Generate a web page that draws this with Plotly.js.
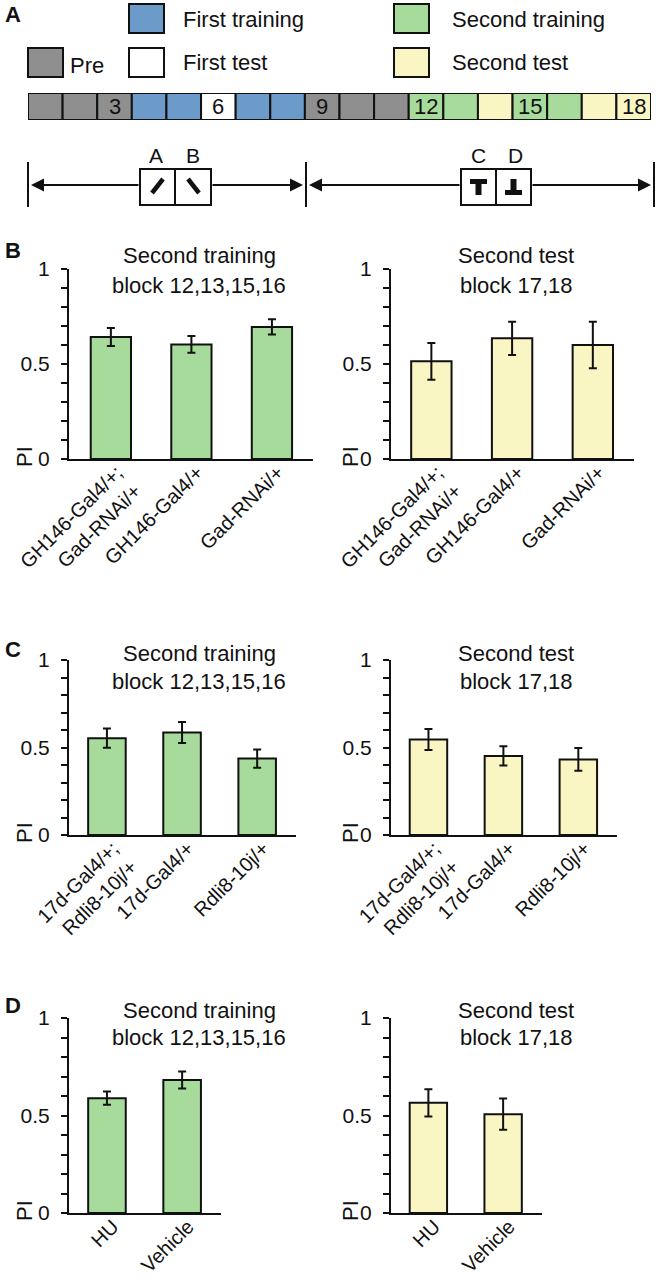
<!DOCTYPE html>
<html><head><meta charset="utf-8">
<script src="https://cdn.plot.ly/plotly-3.0.1.min.js"></script>
<style>html,body{margin:0;padding:0;background:#fff}#chart{width:656px;height:1280px}</style>
</head><body><div id="chart"></div>
<script>
// ---------- DATA ----------
const blockNumbers = [1,2,3,4,5,6,7,8,9,10,11,12,13,14,15,16,17,18];
const blockPhases = ['Pre','Pre','Pre','First training','First training','First test','First training','First training','Pre','Pre','Pre','Second training','Second training','Second test','Second training','Second training','Second test','Second test'];
const blockLabels = ['','','3','','','6','','','9','','','12','','','15','','','18'];
const phaseNames = ['First training','Second training','Pre','First test','Second test'];
const phaseColors = {'Pre':'#8f8f8f','First training':'#6c9bc9','First test':'#ffffff','Second training':'#a7db9b','Second test':'#faf6c4'};

const genotypesB = ['GH146-Gal4/+;<br>Gad-RNAi/+','GH146-Gal4/+','Gad-RNAi/+'];
const trainB = [0.642, 0.603, 0.695];
const trainBErr = [0.047, 0.044, 0.040];
const testB = [0.514, 0.635, 0.600];
const testBErr = [0.097, 0.088, 0.122];

const genotypesC = ['17d-Gal4/+;<br>Rdli8-10j/+','17d-Gal4/+','Rdli8-10j/+'];
const trainC = [0.553, 0.586, 0.437];
const trainCErr = [0.055, 0.060, 0.052];
const testC = [0.546, 0.452, 0.432];
const testCErr = [0.060, 0.055, 0.065];

const treatD = ['HU','Vehicle'];
const trainD = [0.589, 0.682];
const trainDErr = [0.034, 0.044];
const testD = [0.565, 0.507];
const testDErr = [0.070, 0.080];

const yTickVals = [0,0.1,0.2,0.3,0.4,0.5,0.6,0.7,0.8,0.9,1];
const yTickText = ['0','','','','','0.5','','','','','1'];
const titleTrain = ['Second training','block 12,13,15,16'];
const titleTest = ['Second test','block 17,18'];

// ---------- LAYOUT HELPERS ----------
const W = 656, H = 1280;
const FONT = 'Liberation Sans, Arial, Helvetica, sans-serif';
const px = x => x / W;
const py = y => 1 - y / H;
const GREEN = phaseColors['Second training'], YELLOW = phaseColors['Second test'];

const panels = [
  {cats: genotypesB, vals: trainB, errs: trainBErr, color: GREEN, x0: 69, x1: 313, top: 269, bot: 459, range: [-0.52, 2.51], title: titleTrain, tx: 199, t1: 256, t2: 285},
  {cats: genotypesB, vals: testB, errs: testBErr, color: YELLOW, x0: 391, x1: 634, top: 269, bot: 459, range: [-0.50, 2.51], title: titleTest, tx: 516, t1: 256, t2: 285},
  {cats: genotypesC, vals: trainC, errs: trainCErr, color: GREEN, x0: 69, x1: 296, top: 660, bot: 835, range: [-0.505, 2.517], title: titleTrain, tx: 199, t1: 653, t2: 681},
  {cats: genotypesC, vals: testC, errs: testCErr, color: YELLOW, x0: 391, x1: 617, top: 660, bot: 835, range: [-0.50, 2.516], title: titleTest, tx: 516, t1: 653, t2: 681},
  {cats: treatD, vals: trainD, errs: trainDErr, color: GREEN, x0: 69, x1: 221, top: 1018, bot: 1213, range: [-0.505, 1.517], title: titleTrain, tx: 199, t1: 1010, t2: 1037},
  {cats: treatD, vals: testD, errs: testDErr, color: YELLOW, x0: 391, x1: 542, top: 1018, bot: 1213, range: [-0.50, 1.52], title: titleTest, tx: 516, t1: 1010, t2: 1037}
];

const traces = [];
const layout = {
  width: W, height: H, margin: {l:0, r:0, t:0, b:0},
  paper_bgcolor: '#fff', plot_bgcolor: 'rgba(0,0,0,0)',
  showlegend: false, font: {family: FONT, size: 22, color: '#111'},
  annotations: [], shapes: []
};

panels.forEach((p, i) => {
  const n = i + 1;
  const xa = n === 1 ? 'x' : 'x' + n, ya = n === 1 ? 'y' : 'y' + n;
  traces.push({
    type: 'bar', x: p.cats, y: p.vals, xaxis: xa, yaxis: ya, width: 0.5,
    marker: {color: p.color, line: {color: '#111', width: 2}},
    error_y: {type: 'data', array: p.errs, visible: true, color: '#111', thickness: 2, width: 4},
    hoverinfo: 'skip'
  });
  layout['xaxis' + (n === 1 ? '' : n)] = {
    domain: [px(p.x0), px(p.x1)], range: p.range, type: 'category', anchor: ya,
    showline: true, linewidth: 2, linecolor: '#111', ticks: '', showgrid: false, zeroline: false,
    tickangle: -45, ticklabelshift: 6, ticklabelstandoff: -8,
    tickfont: {size: 20, family: FONT, color: '#111'}, fixedrange: true
  };
  layout['yaxis' + (n === 1 ? '' : n)] = {
    domain: [py(p.bot), py(p.top)], range: [0, 1], anchor: xa,
    showline: true, linewidth: 2, linecolor: '#111', ticks: 'outside', ticklen: 6, tickwidth: 2, tickcolor: '#111',
    tickmode: 'array', tickvals: yTickVals, ticktext: yTickText, ticklabelstandoff: 7,
    showgrid: false, zeroline: false, tickfont: {size: 21, family: FONT, color: '#111'}, fixedrange: true
  };
  layout.annotations.push({xref:'paper', yref:'paper', x: px(p.tx), y: py(p.t1), text: p.title[0], showarrow:false, xanchor:'center', yanchor:'middle', font:{size:22}});
  layout.annotations.push({xref:'paper', yref:'paper', x: px(p.tx), y: py(p.t2), text: p.title[1], showarrow:false, xanchor:'center', yanchor:'middle', font:{size:22}});
  const pix = (i % 2 === 0) ? 24 : p.x0 - 41;
  layout.annotations.push({xref:'paper', yref:'paper', x: px(pix), y: py(p.bot - 2), text: 'PI', textangle: -90, showarrow:false, xanchor:'center', yanchor:'middle', font:{size:22}});
});

// Panel letters
[['A', 14], ['B', 250], ['C', 649], ['D', 1005]].forEach(([t, y]) => {
  layout.annotations.push({xref:'paper', yref:'paper', x: px(3), y: py(y), text: '<b>' + t + '</b>', showarrow:false, xanchor:'left', yanchor:'middle', font:{size:22, color:'#111'}});
});

// ---------- PANEL A: block schedule ----------
traces.push({
  type: 'bar', x: blockNumbers, y: blockNumbers.map(() => 1), xaxis: 'x7', yaxis: 'y7', width: 1,
  marker: {color: blockPhases.map(ph => phaseColors[ph]), line: {color: '#111', width: 2}},
  hoverinfo: 'skip'
});
layout.xaxis7 = {domain: [px(28), px(651)], range: [0.5, 18.5], anchor: 'y7', visible: false, fixedrange: true};
layout.yaxis7 = {domain: [py(120), py(93)], range: [0, 1], anchor: 'x7', visible: false, fixedrange: true};
blockNumbers.forEach((b, k) => {
  if (blockLabels[k]) layout.annotations.push({xref:'x7', yref:'y7', x: b, y: 0.5, text: blockLabels[k], showarrow:false, xanchor:'center', yanchor:'middle', font:{size:22}});
});

// Legend for panel A
const legendPos = {
  'First training': {x: 129, y: 4, tx: 181, ty: 19},
  'Second training': {x: 394, y: 4, tx: 450, ty: 19},
  'Pre': {x: 28, y: 48, tx: 68, ty: 66},
  'First test': {x: 129, y: 48, tx: 181, ty: 62},
  'Second test': {x: 394, y: 48, tx: 450, ty: 62}
};
phaseNames.forEach(name => {
  const p = legendPos[name];
  layout.shapes.push({type:'rect', xref:'paper', yref:'paper', x0: px(p.x), x1: px(p.x + 35), y0: py(p.y + 29), y1: py(p.y), fillcolor: phaseColors[name], line:{color:'#111', width:2}});
  layout.annotations.push({xref:'paper', yref:'paper', x: px(p.tx), y: py(p.ty), text: name, showarrow:false, xanchor:'left', yanchor:'middle', font:{size:22}});
});

// Arrow diagram
const lineY0 = 162, lineY1 = 207, arrowY = 185;
[28, 306, 654].forEach(x => layout.shapes.push({type:'line', xref:'paper', yref:'paper', x0: px(x), x1: px(x), y0: py(lineY0), y1: py(lineY1), line:{color:'#111', width:2}}));
[[140,175],[175,211],[461,496],[496,531]].forEach(([a,b]) => layout.shapes.push({type:'rect', xref:'paper', yref:'paper', x0: px(a), x1: px(b), y0: py(205), y1: py(169), line:{color:'#111', width:2}, fillcolor:'#fff'}));
[[140,31],[211,303],[461,309],[531,651]].forEach(([tail, head]) => layout.annotations.push({
  xref:'paper', yref:'paper', axref:'paper', ayref:'paper', x: px(head), y: py(arrowY), ax: px(tail), ay: py(arrowY),
  text:'', showarrow:true, arrowhead:2, arrowsize:1.3, arrowwidth:2, arrowcolor:'#111', standoff:0, startstandoff:0
}));
// stimulus glyphs
layout.shapes.push({type:'line', xref:'paper', yref:'paper', x0: px(152), y0: py(193), x1: px(163), y1: py(179), line:{color:'#111', width:4.5}});
layout.shapes.push({type:'line', xref:'paper', yref:'paper', x0: px(188), y0: py(179), x1: px(199), y1: py(193), line:{color:'#111', width:4.5}});
layout.shapes.push({type:'rect', xref:'paper', yref:'paper', x0: px(470), x1: px(487), y0: py(184), y1: py(179), fillcolor:'#111', line:{width:0}});
layout.shapes.push({type:'rect', xref:'paper', yref:'paper', x0: px(475.5), x1: px(481.5), y0: py(195), y1: py(179), fillcolor:'#111', line:{width:0}});
layout.shapes.push({type:'rect', xref:'paper', yref:'paper', x0: px(505), x1: px(522), y0: py(195), y1: py(190), fillcolor:'#111', line:{width:0}});
layout.shapes.push({type:'rect', xref:'paper', yref:'paper', x0: px(510.5), x1: px(516.5), y0: py(195), y1: py(179), fillcolor:'#111', line:{width:0}});
[['A',156],['B',193],['C',478],['D',515]].forEach(([t,x]) => layout.annotations.push({xref:'paper', yref:'paper', x: px(x), y: py(156), text: t, showarrow:false, xanchor:'center', yanchor:'middle', font:{size:21}}));

Plotly.newPlot('chart', traces, layout, {staticPlot: true, displayModeBar: false});
</script></body></html>
